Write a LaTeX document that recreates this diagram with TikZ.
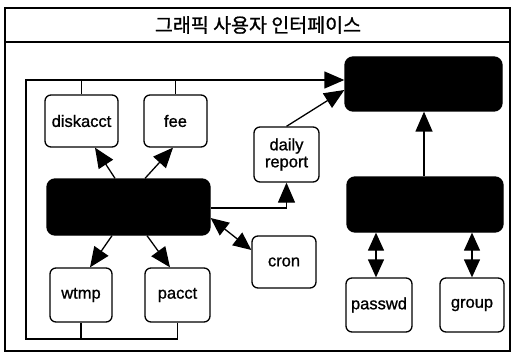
\documentclass[tikz,border=0pt]{standalone}
\usepackage{fontspec}
\setmainfont[FakeBold=1]{Liberation Sans}
\newfontfamily\krfont[FakeBold=1]{Noto Sans CJK KR}
\usetikzlibrary{arrows.meta}
\begin{document}
\begin{tikzpicture}[x=1pt,y=-1pt,
  every node/.style={inner sep=0pt,font=\fontsize{16.5}{17}\selectfont},
  wbox/.style={draw,line width=1.3pt,rounded corners=6pt,fill=white,align=center},
  bbox/.style={draw,line width=1.3pt,rounded corners=8pt,fill=black},
  conn/.style={line width=1.3pt},
  arr/.style={conn,-{Triangle[length=20pt,width=17pt]}},
  dbl/.style={conn,{Triangle[length=18pt,width=16pt]}-{Triangle[length=18pt,width=16pt]}}]
\useasboundingbox (0,0) rectangle (512,353);
% frame
\draw[line width=1.3pt] (5,8) rectangle (510,351);
\draw[line width=1.3pt] (5,42) -- (510,42);
\node (title) at (258,25) {\krfont\fontsize{19.5}{20}\selectfont 그래픽 사용자 인터페이스};
% nodes
\node[wbox,minimum width=73pt,minimum height=52pt] (diskacct) at (81.5,121) {diskacct};
\node[wbox,minimum width=63pt,minimum height=52pt] (fee) at (175.5,121) {fee};
\node[wbox,minimum width=65pt,minimum height=55pt] (daily) at (286.5,154.5) {daily\\report};
\node[bbox,minimum width=157pt,minimum height=54pt] (topR) at (423.5,84) {};
\node[bbox,minimum width=163pt,minimum height=56pt] (mid) at (128.5,207) {};
\node[wbox,minimum width=64pt,minimum height=52pt] (cron) at (284,262) {cron};
\node[wbox,minimum width=62pt,minimum height=54pt] (wtmp) at (81,295) {wtmp};
\node[wbox,minimum width=65pt,minimum height=54pt] (pacct) at (177.5,295) {pacct};
\node[bbox,minimum width=156pt,minimum height=55pt] (botR) at (425,204.5) {};
\node[wbox,minimum width=66pt,minimum height=54pt] (passwd) at (379,305) {passwd};
\node[wbox,minimum width=64pt,minimum height=54pt] (group) at (472,305) {group};
% loop line
\coordinate (tl) at (26,80);
\coordinate (bl) at (26,339);
\draw[arr] (pacct.south) -- (pacct.south |- bl) -- (bl) -- (tl) -- (topR.west |- tl);
\draw[conn] (wtmp.south) -- (wtmp.south |- bl);
\draw[conn] (diskacct.north) -- (diskacct.north |- tl);
\draw[conn] (fee.north) -- (fee.north |- tl);
% arrows
\draw[arr] (daily.north) -- ([yshift=-6pt]topR.west);
\draw[arr] ([yshift=-1pt]mid.east) -| (daily.south);
\draw[dbl] ([yshift=-11pt]mid.east) -- ([yshift=12pt]cron.west);
\draw[arr] ([xshift=-13.5pt]mid.north) -- ([xshift=13.5pt]diskacct.south);
\draw[arr] ([xshift=16.5pt]mid.north) -- ([xshift=-2.5pt]fee.south);
\draw[arr] ([xshift=-16.5pt]mid.south) -- ([xshift=9pt]wtmp.north);
\draw[arr] ([xshift=18.5pt]mid.south) -- ([xshift=-7.5pt]pacct.north);
\draw[arr] ([xshift=-1pt]botR.north) -- ([xshift=-1pt]botR.north |- topR.south);
\draw[dbl] ([xshift=-3pt]botR.south -| passwd.north) -- ([xshift=-3pt]passwd.north);
\draw[dbl] (botR.south -| group.north) -- (group.north);
\end{tikzpicture}
\end{document}
